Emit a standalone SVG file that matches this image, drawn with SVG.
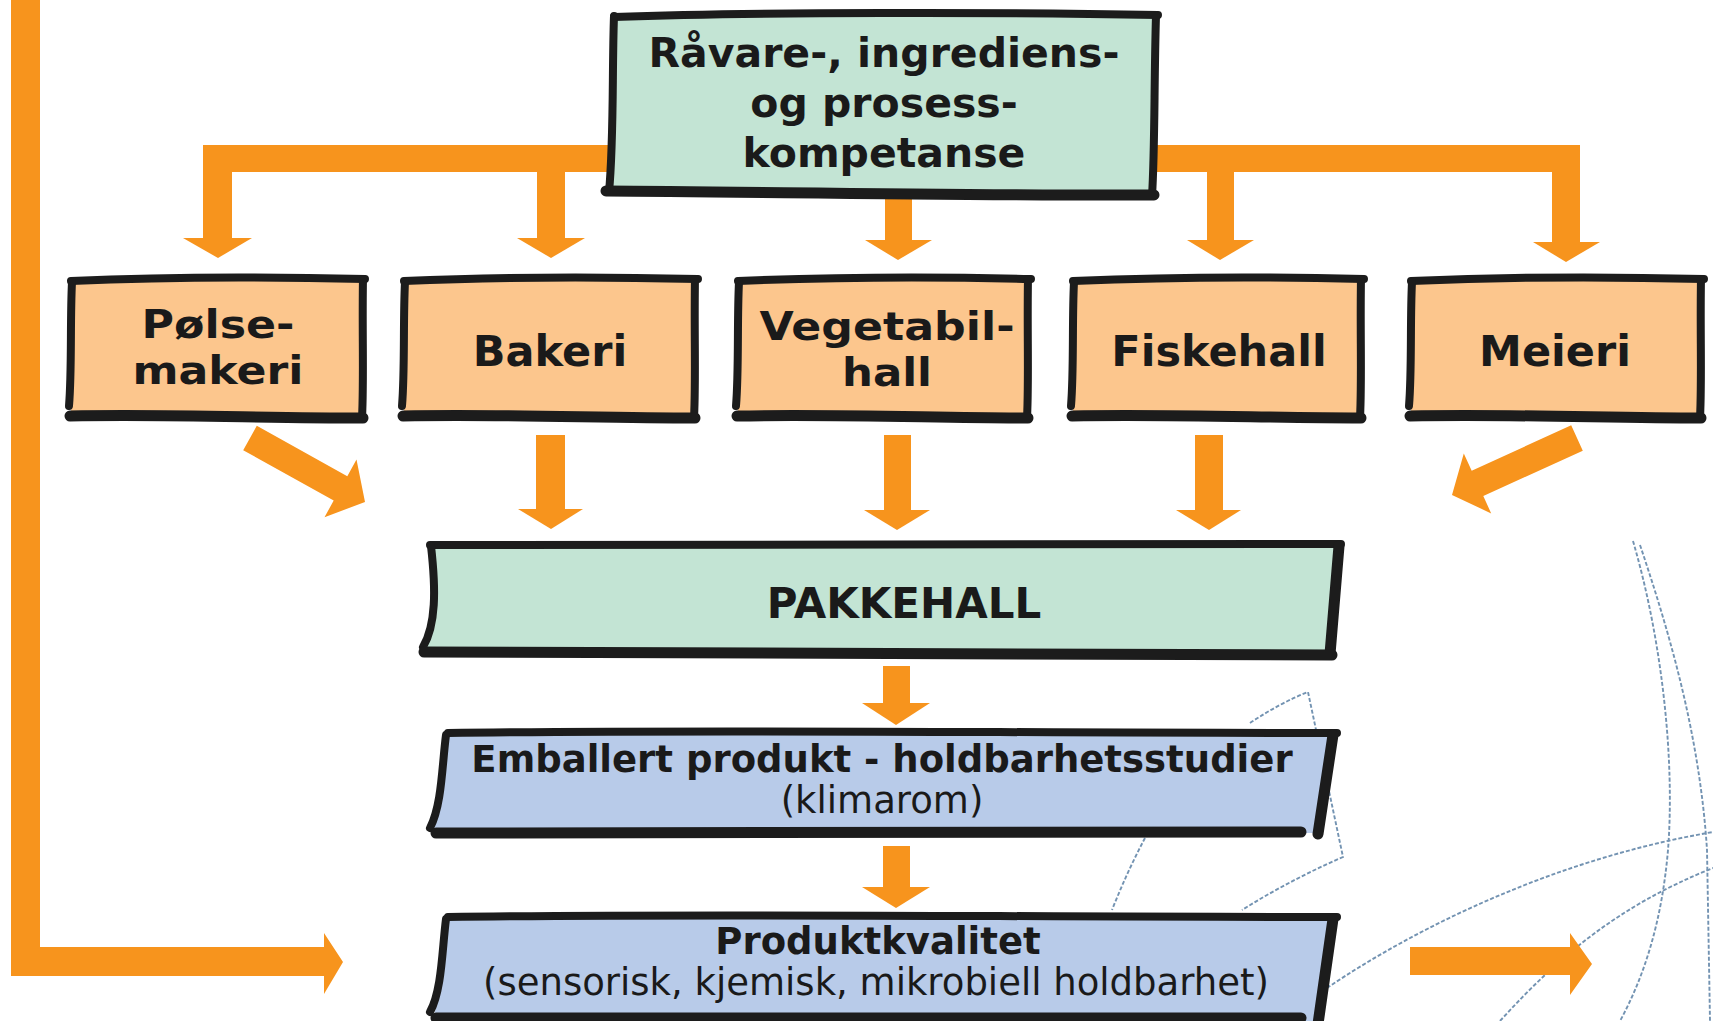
<svg xmlns="http://www.w3.org/2000/svg" width="1713" height="1021" viewBox="0 0 1713 1021">
<style>
.bg{fill:#ffffff}
.arrow{fill:#F7941D}
.edge{fill:none;stroke:#1c1c1c;stroke-width:8;stroke-linecap:round;stroke-linejoin:round}
.thick{stroke-width:11}
.green{fill:#C3E4D4}
.orange{fill:#FCC68D}
.blue{fill:#B8CBE9}
.tb{font-family:"DejaVu Sans","Verdana",sans-serif;font-weight:bold;fill:#1a1a1a;text-anchor:middle}
.tr{font-family:"DejaVu Sans","Verdana",sans-serif;font-weight:normal;fill:#1a1a1a;text-anchor:middle}
.deco{fill:none;stroke:#7393b2;stroke-width:1.9;stroke-dasharray:4 2}
</style>
<rect class="bg" x="0" y="0" width="1713" height="1021"/>

<g id="decoration">
<path class="deco" d="M1633,541 C1662,640 1675,760 1668,850 C1662,920 1645,975 1620,1021"/>
<path class="deco" d="M1640,545 C1672,640 1700,740 1707,850 L1710,1021"/>
<path class="deco" d="M1327,988 C1420,925 1560,858 1713,832"/>
<path class="deco" d="M1500,1021 C1560,955 1620,905 1713,868"/>
<path class="deco" d="M1250,723 Q1280,703 1308,692 L1343,857 Q1290,880 1242,910"/>
<path class="deco" d="M1145,838 Q1127,872 1112,910"/>
</g>

<g id="connectors">
<rect class="arrow" x="203" y="145" width="1377" height="27"/>
<rect class="arrow" x="203" y="145" width="29" height="94"/>
<polygon class="arrow" points="183,238 252,238 218,258"/>
<rect class="arrow" x="537" y="170" width="28" height="69"/>
<polygon class="arrow" points="517,238 585,238 551,258"/>
<rect class="arrow" x="885" y="190" width="27" height="51"/>
<polygon class="arrow" points="865,240 932,240 898,260"/>
<rect class="arrow" x="1207" y="170" width="27" height="71"/>
<polygon class="arrow" points="1187,240 1254,240 1220,260"/>
<rect class="arrow" x="1552" y="145" width="28" height="98"/>
<polygon class="arrow" points="1533,242 1600,242 1566,262"/>
<polygon class="arrow" points="256.8,425.8 347.3,476.2 356.5,459.6 365,502 324.5,517.2 333.7,500.6 243.2,450.2"/>
<rect class="arrow" x="536" y="435" width="29" height="75"/>
<polygon class="arrow" points="518,509 583,509 551,529"/>
<rect class="arrow" x="884" y="435" width="27" height="76"/>
<polygon class="arrow" points="864,510 930,510 897,530"/>
<rect class="arrow" x="1195" y="435" width="28" height="76"/>
<polygon class="arrow" points="1176,510 1241,510 1209,530"/>
<polygon class="arrow" points="1571.2,425.3 1471.7,470.7 1463.8,453.4 1452,495 1491.2,513.4 1483.3,496.1 1582.8,450.7"/>
<rect class="arrow" x="883" y="666" width="27" height="38"/>
<polygon class="arrow" points="862,703 930,703 896,725"/>
<rect class="arrow" x="883" y="846" width="27" height="42"/>
<polygon class="arrow" points="862,887 930,887 896,908"/>
<path class="arrow" d="M11,0 L40,0 L40,947 L324,947 L324,933 L343,962 L324,994 L324,976 L11,976 Z"/>
<path class="arrow" d="M1410,947 L1570,947 L1570,933 L1592,964 L1570,995 L1570,975 L1410,975 Z"/>
</g>

<g id="node-kompetanse">
<path class="green" d="M612,14 L1157,14 L1155,195 L610,193 Z"/>
<path class="edge" d="M614,17 C760,12 1000,12 1158,15"/>
<path class="edge" d="M614,16 C612,70 614,140 609,192"/>
<path class="edge" d="M1156,16 C1154,80 1155,150 1152,196"/>
<path class="edge thick" d="M606,191 C760,192 1000,196 1154,195"/>
<text class="tb" font-size="41" x="884" y="67">Råvare-, ingrediens-</text>
<text class="tb" font-size="41" x="884" y="117">og prosess-</text>
<text class="tb" font-size="41" x="884" y="167">kompetanse</text>
</g>

<g id="node-polsemakeri">
<rect class="orange" x="71" y="279" width="292" height="136"/>
<path class="edge" d="M71,281 Q200,275 365,279"/>
<path class="edge" d="M72,282 C70,320 72,370 69,406"/>
<path class="edge" d="M363,279 C362,330 364,380 362,418"/>
<path class="edge thick" d="M70,416 C170,414 260,418 363,418"/>
<text class="tb" font-size="39" x="218" y="338" textLength="153" lengthAdjust="spacingAndGlyphs">Pølse-</text>
<text class="tb" font-size="39" x="218" y="384" textLength="171" lengthAdjust="spacingAndGlyphs">makeri</text>
</g>

<g id="node-bakeri">
<rect class="orange" x="404" y="279" width="291" height="136"/>
<path class="edge" d="M404,281 Q540,275 698,279"/>
<path class="edge" d="M405,282 C403,320 405,370 402,406"/>
<path class="edge" d="M695,279 C694,330 696,380 694,418"/>
<path class="edge thick" d="M403,416 C500,414 600,418 695,418"/>
<text class="tb" font-size="43" x="550" y="366">Bakeri</text>
</g>

<g id="node-vegetabilhall">
<rect class="orange" x="738" y="279" width="290" height="136"/>
<path class="edge" d="M738,281 Q880,275 1031,279"/>
<path class="edge" d="M739,282 C737,320 739,370 736,406"/>
<path class="edge" d="M1028,279 C1027,330 1029,380 1027,418"/>
<path class="edge thick" d="M737,416 C840,414 940,418 1028,418"/>
<text class="tb" font-size="39" x="887" y="340" textLength="255" lengthAdjust="spacingAndGlyphs">Vegetabil-</text>
<text class="tb" font-size="39" x="887" y="386" textLength="90" lengthAdjust="spacingAndGlyphs">hall</text>
</g>

<g id="node-fiskehall">
<rect class="orange" x="1073" y="279" width="289" height="136"/>
<path class="edge" d="M1073,281 Q1210,275 1364,279"/>
<path class="edge" d="M1074,282 C1072,320 1074,370 1071,406"/>
<path class="edge" d="M1361,279 C1360,330 1362,380 1360,418"/>
<path class="edge thick" d="M1072,416 C1170,414 1270,418 1361,418"/>
<text class="tb" font-size="43" x="1219" y="366">Fiskehall</text>
</g>

<g id="node-meieri">
<rect class="orange" x="1411" y="279" width="290" height="136"/>
<path class="edge" d="M1411,281 Q1550,275 1704,279"/>
<path class="edge" d="M1412,282 C1410,320 1412,370 1409,406"/>
<path class="edge" d="M1701,279 C1700,330 1702,380 1700,418"/>
<path class="edge thick" d="M1410,416 C1510,414 1610,418 1701,418"/>
<text class="tb" font-size="43" x="1555" y="366">Meieri</text>
</g>

<g id="node-pakkehall">
<path class="green" d="M433,545 L1340,545 L1330,653 L424,651 C436,625 436,590 433,545 Z"/>
<path class="edge" d="M430,545 C700,542 1000,546 1341,544"/>
<path class="edge" d="M431,546 C436,590 436,625 423,647"/>
<path class="edge thick" d="M1339,546 L1330,654"/>
<path class="edge thick" d="M424,652 C700,654 1000,652 1332,655"/>
<text class="tb" font-size="42" x="904" y="618">PAKKEHALL</text>
</g>

<g id="node-emballert">
<path class="blue" d="M446,733 L1334,733 L1319,833 L432,832 C442,810 444,770 446,733 Z"/>
<path class="edge" d="M448,733 C700,729 1000,733 1337,733"/>
<path class="edge" d="M446,735 C442,765 442,805 430,828"/>
<path class="edge thick" d="M1333,735 L1318,834"/>
<path class="edge thick" d="M436,833 C700,831 1000,835 1301,832"/>
<text class="tb" font-size="37" x="882" y="772">Emballert produkt - holdbarhetsstudier</text>
<text class="tr" font-size="37" x="882" y="813">(klimarom)</text>
</g>

<g id="node-produktkvalitet">
<path class="blue" d="M446,917 L1334,917 L1319,1021 L432,1021 C442,995 444,955 446,917 Z"/>
<path class="edge" d="M448,917 C700,913 1000,917 1337,917"/>
<path class="edge" d="M446,919 C442,950 442,990 430,1012"/>
<path class="edge thick" d="M1333,919 L1318,1024"/>
<path class="edge thick" d="M436,1018 C700,1017 1000,1020 1301,1018"/>
<text class="tb" font-size="37" x="878" y="954">Produktkvalitet</text>
<text class="tr" font-size="37" x="876" y="995">(sensorisk, kjemisk, mikrobiell holdbarhet)</text>
</g>
</svg>
